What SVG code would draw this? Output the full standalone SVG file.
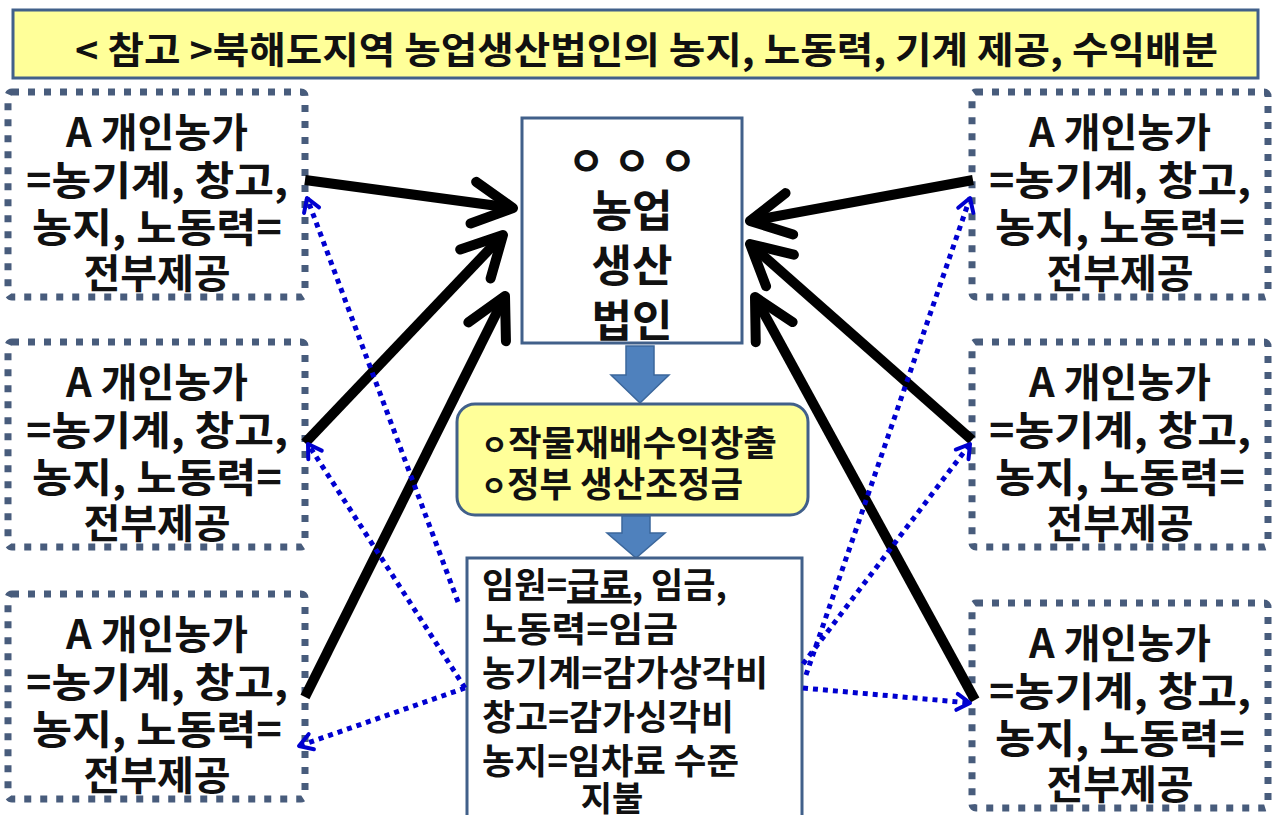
<svg xmlns="http://www.w3.org/2000/svg" width="1273" height="815" viewBox="0 0 1273 815">
<defs>
<style>
text{font-family:'Noto Sans CJK KR','Noto Sans',sans-serif;font-weight:700;fill:#111}
.farm rect{fill:#fff;stroke:#485c7c;stroke-width:7;stroke-dasharray:7 9}
.farm text{font-size:40px;text-anchor:middle}
.solid{fill:#fff;stroke:#41608a;stroke-width:3}
.blk{stroke:#000;stroke-width:10;fill:none;marker-end:url(#ab)}
.dot{stroke:#0000d0;stroke-width:5;stroke-dasharray:5 5;fill:none;marker-end:url(#ad)}
.barrow{fill:#4f81bd;stroke:#3b679c;stroke-width:1.5}
.yel{fill:#ffff99;stroke:#41608a;stroke-width:3}
</style>
<marker id="ab" markerUnits="userSpaceOnUse" viewBox="-50 -30 60 60" markerWidth="60" markerHeight="60" refX="0" refY="0" orient="auto" overflow="visible">
<path d="M-40,-21 L0,0 L-40,21" fill="none" stroke="#000" stroke-width="10" stroke-linecap="round" stroke-linejoin="round"/>
</marker>
<marker id="ad" markerUnits="userSpaceOnUse" viewBox="-20 -15 30 30" markerWidth="30" markerHeight="30" refX="0" refY="0" orient="auto" overflow="visible">
<path d="M-13,-8 L0,0 L-13,8" fill="none" stroke="#0000d0" stroke-width="4" stroke-linecap="round" stroke-linejoin="round"/>
</marker>
</defs>
<rect width="1273" height="815" fill="#fff"/>

<g id="title">
<rect x="13" y="10" width="1245" height="68" class="yel"/>
<text x="75" y="64" font-size="37" textLength="1143" lengthAdjust="spacingAndGlyphs">&lt; 참고 &gt;북해도지역 농업생산법인의 농지, 노동력, 기계 제공, 수익배분</text>
</g>

<g id="farm-l1" class="farm">
<rect x="8" y="92" width="297" height="205" rx="4"/>
<text x="157" y="147">A 개인농가</text>
<text x="157" y="195" textLength="262" lengthAdjust="spacingAndGlyphs">=농기계, 창고,</text>
<text x="157" y="242" textLength="250" lengthAdjust="spacingAndGlyphs">농지, 노동력=</text>
<text x="157" y="288">전부제공</text>
</g>
<g id="farm-l2" class="farm" transform="translate(0,250)">
<rect x="8" y="92" width="297" height="205" rx="4"/>
<text x="157" y="147">A 개인농가</text>
<text x="157" y="195" textLength="262" lengthAdjust="spacingAndGlyphs">=농기계, 창고,</text>
<text x="157" y="242" textLength="250" lengthAdjust="spacingAndGlyphs">농지, 노동력=</text>
<text x="157" y="288">전부제공</text>
</g>
<g id="farm-l3" class="farm" transform="translate(0,502)">
<rect x="8" y="92" width="297" height="205" rx="4"/>
<text x="157" y="147">A 개인농가</text>
<text x="157" y="195" textLength="262" lengthAdjust="spacingAndGlyphs">=농기계, 창고,</text>
<text x="157" y="242" textLength="250" lengthAdjust="spacingAndGlyphs">농지, 노동력=</text>
<text x="157" y="288">전부제공</text>
</g>
<g id="farm-r1" class="farm">
<rect x="972" y="92" width="296" height="205" rx="4"/>
<text x="1120" y="147">A 개인농가</text>
<text x="1120" y="195" textLength="262" lengthAdjust="spacingAndGlyphs">=농기계, 창고,</text>
<text x="1120" y="242" textLength="250" lengthAdjust="spacingAndGlyphs">농지, 노동력=</text>
<text x="1120" y="288">전부제공</text>
</g>
<g id="farm-r2" class="farm" transform="translate(0,250)">
<rect x="972" y="92" width="296" height="205" rx="4"/>
<text x="1120" y="147">A 개인농가</text>
<text x="1120" y="195" textLength="262" lengthAdjust="spacingAndGlyphs">=농기계, 창고,</text>
<text x="1120" y="242" textLength="250" lengthAdjust="spacingAndGlyphs">농지, 노동력=</text>
<text x="1120" y="288">전부제공</text>
</g>
<g id="farm-r3" class="farm" transform="translate(0,511)">
<rect x="972" y="92" width="296" height="205" rx="4"/>
<text x="1120" y="147">A 개인농가</text>
<text x="1120" y="195" textLength="262" lengthAdjust="spacingAndGlyphs">=농기계, 창고,</text>
<text x="1120" y="242" textLength="250" lengthAdjust="spacingAndGlyphs">농지, 노동력=</text>
<text x="1120" y="288">전부제공</text>
</g>

<g id="corp">
<rect x="522" y="118" width="220" height="225" class="solid"/>
<text x="632" y="176" font-size="40" text-anchor="middle">ㅇ ㅇ ㅇ</text>
<text x="632" y="227" font-size="44" text-anchor="middle">농업</text>
<text x="632" y="282" font-size="44" text-anchor="middle">생산</text>
<text x="632" y="337" font-size="44" text-anchor="middle">법인</text>
</g>

<g id="flow1">
<polygon class="barrow" points="626,346 654,346 654,375 669,375 640,403 611,375 626,375"/>
</g>

<g id="income">
<rect x="457" y="404" width="351" height="111" rx="18" class="yel"/>
<text x="481" y="456" font-size="35" fill="#101838" textLength="296" lengthAdjust="spacingAndGlyphs"><tspan font-size="28">ㅇ</tspan>작물재배수익창출</text>
<text x="481" y="497" font-size="35" fill="#101838" textLength="262" lengthAdjust="spacingAndGlyphs"><tspan font-size="28">ㅇ</tspan>정부 생산조정금</text>
</g>

<g id="flow2">
<polygon class="barrow" points="622,516 650,516 650,533 665,533 636,558 607,533 622,533"/>
</g>

<g id="distribution">
<rect x="467" y="558" width="335" height="270" class="solid"/>
<text x="482" y="598" font-size="35" textLength="245" lengthAdjust="spacingAndGlyphs">임원=<tspan text-decoration="underline">급료</tspan>, 임금,</text>
<text x="482" y="642" font-size="35" textLength="196" lengthAdjust="spacingAndGlyphs">노동력=임금</text>
<text x="482" y="686" font-size="35" textLength="286" lengthAdjust="spacingAndGlyphs">농기계=감가상각비</text>
<text x="482" y="730" font-size="35" textLength="252" lengthAdjust="spacingAndGlyphs">창고=감가싱각비</text>
<text x="482" y="774" font-size="35" textLength="257" lengthAdjust="spacingAndGlyphs">농지=임차료 수준</text>
<text x="612" y="811" font-size="34" text-anchor="middle">지불</text>
</g>

<g id="connectors">
<line class="blk" x1="305" y1="180" x2="513" y2="208"/>
<line class="blk" x1="305" y1="443" x2="503" y2="235"/>
<line class="blk" x1="305" y1="697" x2="505" y2="296"/>
<line class="blk" x1="973" y1="180" x2="750" y2="221"/>
<line class="blk" x1="972" y1="440" x2="750" y2="244"/>
<line class="blk" x1="975" y1="700" x2="755" y2="297"/>
<line class="dot" x1="458" y1="602" x2="307" y2="198"/>
<line class="dot" x1="465" y1="688" x2="308" y2="444"/>
<line class="dot" x1="465" y1="688" x2="299" y2="746"/>
<line class="dot" x1="806" y1="675" x2="970" y2="198"/>
<line class="dot" x1="803" y1="664" x2="970" y2="444"/>
<line class="dot" x1="803" y1="688" x2="970" y2="703"/>
</g>
</svg>
